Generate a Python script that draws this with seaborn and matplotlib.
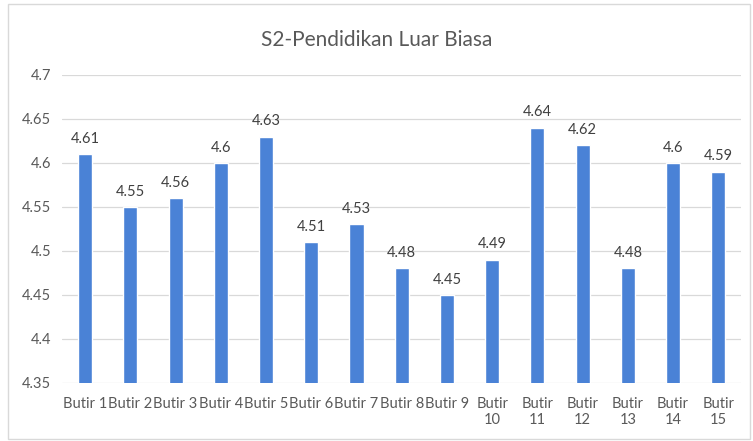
import matplotlib
matplotlib.use("Agg")
import matplotlib.pyplot as plt
import seaborn as sns
import pandas as pd

# data
butir = ["Butir 1", "Butir 2", "Butir 3", "Butir 4", "Butir 5", "Butir 6", "Butir 7",
         "Butir 8", "Butir 9", "Butir\n10", "Butir\n11", "Butir\n12", "Butir\n13",
         "Butir\n14", "Butir\n15"]
skor = [4.61, 4.55, 4.56, 4.60, 4.63, 4.51, 4.53, 4.48, 4.45, 4.49, 4.64, 4.62, 4.48, 4.60, 4.59]
label = ["4.61", "4.55", "4.56", "4.6", "4.63", "4.51", "4.53", "4.48", "4.45", "4.49",
         "4.64", "4.62", "4.48", "4.6", "4.59"]
yticks = [4.35, 4.4, 4.45, 4.5, 4.55, 4.6, 4.65, 4.7]

df = pd.DataFrame({"Butir": butir, "Skor": skor})

sns.set_style("white")
plt.rcParams["font.family"] = ["Lato", "DejaVu Sans"]
abu = "#595959"

fig = plt.figure(figsize=(7.53, 4.41), dpi=100)
ax = fig.add_axes([0.083, 0.132, 0.901, 0.698])

sns.barplot(data=df, x="Butir", y="Skor", color="#4a82d6", width=0.31,
            saturation=1, ax=ax, zorder=3)

ax.set_ylim(4.35, 4.7)
ax.set_yticks(yticks)
ax.set_yticklabels([f"{v:g}" for v in yticks], color=abu, fontsize=10.5)
ax.tick_params(axis="x", colors=abu, labelsize=10.5, length=0, pad=10)
ax.tick_params(axis="y", length=0, pad=8)
ax.yaxis.grid(True, color="#d9d9d9", linewidth=0.9, zorder=0)
ax.set_axisbelow(True)
for s in ax.spines.values():
    s.set_visible(False)
ax.set_xlabel("")
ax.set_ylabel("")

for i, (v, t) in enumerate(zip(skor, label)):
    ax.annotate(t, (i, v), xytext=(0, 6), textcoords="offset points",
                ha="center", va="bottom", fontsize=10.5, color="#404040")

fig.text(0.5, 0.91, "S2-Pendidikan Luar Biasa", ha="center", va="center",
         fontsize=15, color=abu)

# bingkai chart
fig.patches.append(plt.Rectangle((0.011, 0.005), 0.985, 0.985, transform=fig.transFigure,
                                 fill=False, edgecolor="#d9d9d9", linewidth=1))

fig.savefig("out.png", dpi=100)
